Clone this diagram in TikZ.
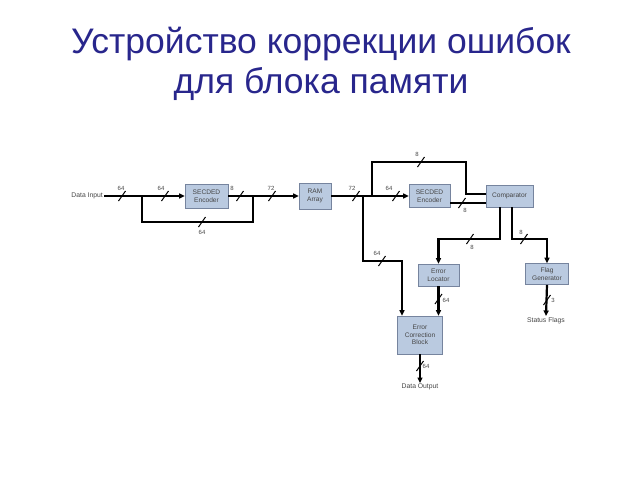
\documentclass[tikz,border=0pt]{standalone}
\usepackage{fontspec}
\setmainfont{Liberation Sans}
\usetikzlibrary{arrows.meta,positioning}

\definecolor{TitleBlue}{RGB}{40,38,140}
\definecolor{BoxFill}{RGB}{186,202,224}
\definecolor{BoxEdge}{RGB}{118,132,158}
\definecolor{LblGray}{RGB}{70,70,70}

\tikzset{
  block/.style={draw=BoxEdge,fill=BoxFill,line width=0.6pt,inner sep=0pt,
    align=center,font=\fontsize{6.6}{7.6}\selectfont,text=LblGray},
  wire/.style={line width=1.6pt},
  bus/.style={line width=2.2pt},
  tip/.style={-{Triangle[length=5.5pt,width=5pt]}},
  buslbl/.style={font=\fontsize{6}{7}\selectfont,text=LblGray,inner sep=0pt},
  iolbl/.style={font=\fontsize{6.8}{7.8}\selectfont,text=LblGray,inner sep=1pt},
  slash/.pic={\draw[line width=1pt] (-3.5,5) -- (3.5,-5);}
}

\begin{document}
\begin{tikzpicture}[x=1pt,y=-1pt]
\useasboundingbox (0,0) rectangle (640,480);

% title
\node[text=TitleBlue,align=center,font=\fontsize{35.5}{40}\selectfont] (title) at (321,64)
  {Устройство коррекции ошибок\\для блока памяти};

% blocks
\node[block,minimum width=43pt,minimum height=24pt] (enc1) at (206.5,196) {SECDED\\Encoder};
\node[block,minimum width=32pt,minimum height=26pt] (ram) at (315,196) {RAM\\Array};
\node[block,minimum width=41pt,minimum height=23pt] (enc2) at (429.5,196) {SECDED\\Encoder};
\node[block,minimum width=47pt,minimum height=22pt] (comp) at (509.5,196) {Comparator};
\node[block,minimum width=41pt,minimum height=22pt] (loc) at (438.5,275) {Error\\Locator};
\node[block,minimum width=43pt,minimum height=21pt] (flag) at (547,274) {Flag\\Generator};
\node[block,minimum width=45pt,minimum height=38pt] (ecb) at (420,335) {Error\\Correction\\Block};

% inputs and outputs
\node[iolbl,anchor=east] (din) at (104,196) {Data Input};
\node[iolbl,anchor=north] (dout) at (420,383) {Data Output};
\node[iolbl,anchor=north] (sf) at (546,316) {Status Flags};

% junctions
\coordinate (j1) at (142,196);
\coordinate (j2) at (253,196);
\coordinate (j3) at (363,196);
\coordinate (j4) at (372,196);
\coordinate (byp) at (200,222);
\coordinate (tl) at (420,162);
\coordinate (ci) at (466,194);
\coordinate (lc) at (470,239);
\coordinate (fc) at (524,239);
\coordinate (ec) at (383,261);

% wires
\draw[wire,tip] (din.east) -- (enc1.west);
\draw[bus] (j1) |- (byp) -| (j2);
\draw[wire,tip] (enc1.east) -- (ram.west);
\draw[wire,tip] (ram.east) -- (enc2.west);
\draw[bus] (j4) |- (tl) -| (ci) -- (comp.west |- ci);
\draw[wire] ([yshift=-7pt]enc2.east) -- ([yshift=-7pt]comp.west);
\draw[bus,tip] ([xshift=-9.5pt]comp.south) |- (lc) -| (loc.north);
\draw[bus,tip] ([xshift=2.5pt]comp.south) |- (fc) -| (flag.north);
\draw[bus,tip] (j3) |- (ec) -| ([xshift=-18pt]ecb.north);
\draw[bus,tip] (loc.south) -- (loc.south |- ecb.north);
\draw[bus,tip] (ecb.south) -- (dout.north);
\draw[bus,tip] (flag.south) -- (sf.north);

% bus widths
\pic at (122,196) {slash}; \node[buslbl] (w1) at (121,188) {64};
\pic at (165,196) {slash}; \node[buslbl] (w2) at (161,188) {64};
\pic at (240,196) {slash}; \node[buslbl] (w3) at (232,188) {8};
\pic at (272,196) {slash}; \node[buslbl] (w4) at (271,188) {72};
\pic at (202,222) {slash}; \node[buslbl] (w5) at (202,232) {64};
\pic at (356,196) {slash}; \node[buslbl] (w6) at (352,188) {72};
\pic at (396,196) {slash}; \node[buslbl] (w7) at (389,188) {64};
\pic at (421,162) {slash}; \node[buslbl] (w8) at (417,154) {8};
\pic at (462,203) {slash}; \node[buslbl] (w9) at (465,210) {8};
\pic at (470,239) {slash}; \node[buslbl] (w10) at (472,247) {8};
\pic at (524,239) {slash}; \node[buslbl] (w11) at (521,232) {8};
\pic at (382,261) {slash}; \node[buslbl] (w12) at (377,253) {64};
\pic at (438.5,299) {slash}; \node[buslbl] (w13) at (446,300) {64};
\pic at (420,366) {slash}; \node[buslbl] (w14) at (426,366) {64};
\pic at (547,300) {slash}; \node[buslbl] (w15) at (553,300) {3};
\end{tikzpicture}
\end{document}
